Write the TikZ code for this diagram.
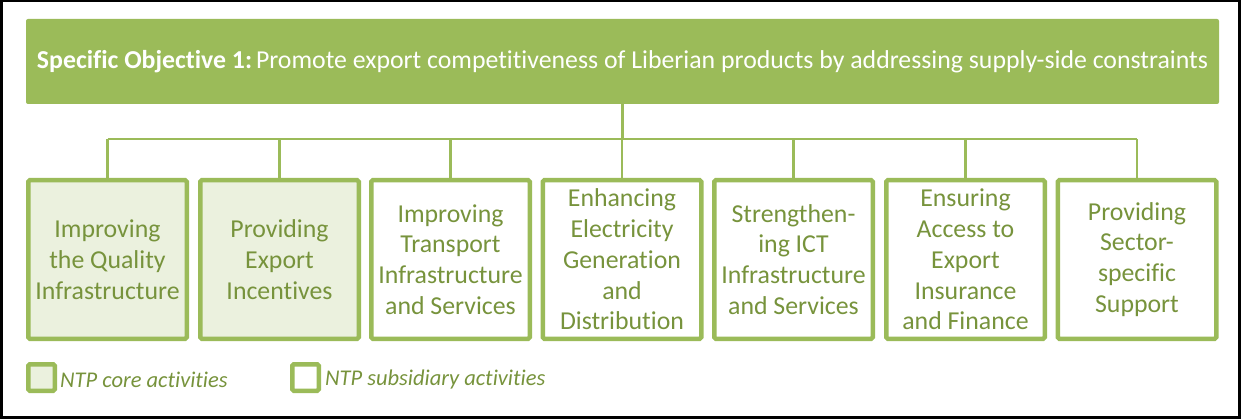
\documentclass[tikz,border=0pt]{standalone}
\usepackage{fontspec}
\setmainfont[Ligatures=NoCommon]{Carlito}
\definecolor{ogreen}{HTML}{9BBB59}
\definecolor{otext}{HTML}{77933C}
\definecolor{olight}{HTML}{EBF1DE}
\begin{document}
\begin{tikzpicture}[x=1pt,y=-1pt,
  objbox/.style={fill=ogreen, draw=none, rounded corners=2pt, minimum width=1193pt, minimum height=85pt, inner sep=0pt, text=white, font=\fontsize{25.8}{30}\selectfont},
  actbox/.style={draw=ogreen, line width=4.5pt, rounded corners=1.5pt, minimum width=158.5pt, minimum height=158.5pt, inner sep=0pt, align=center, text=otext, font=\fontsize{25.8}{30.8}\selectfont, outer sep=0pt},
  core/.style={fill=olight},
  sub/.style={fill=white},
  legbox/.style={draw=ogreen, line width=4.5pt, rounded corners=1.5pt, minimum width=26.5pt, minimum height=26.5pt, inner sep=0pt, outer sep=0pt},
  legtext/.style={anchor=west, inner sep=0pt, text=otext, font=\fontsize{22.5}{26}\selectfont\itshape},
  conn/.style={draw=ogreen, line width=2.7pt}]
\useasboundingbox (0,0) rectangle (1241,419);
\draw[line width=2.5pt] (1.25,1.25) rectangle (1239.25,417.25);

\node[objbox] (obj) at (622.5,61.5) {\textbf{Specific Objective 1:}\hspace{0.15em}Promote export competitiveness of Liberian products by addressing supply-side constraints};

\node[actbox,core] (c1) at (107.5,259.5) {Improving\\the Quality\\Infrastructure};
\node[actbox,core] (c2) at (279.5,259.5) {Providing\\Export\\Incentives};
\node[actbox,sub] (c3) at (450.5,259.5) {Improving\\Transport\\Infrastructure\\and Services};
\node[actbox,sub] (c4) at (622,259.5) {Enhancing\\Electricity\\Generation\\and\\Distribution};
\node[actbox,sub] (c5) at (793.5,259.5) {Strengthen-\\ing ICT\\Infrastructure\\and Services};
\node[actbox,sub] (c6) at (965.5,259.5) {Ensuring\\Access to\\Export\\Insurance\\and Finance};
\node[actbox,sub] (c7) at (1137,259.5) {Providing\\Sector-\\specific\\Support};

\coordinate (bar) at (0,139);
\draw[conn] (obj.south) -- (obj.south |- bar);
\draw[conn] (c1.north |- bar) -- (c7.north |- bar);
\foreach \i in {1,...,7} {\draw[conn] (c\i.north) -- (c\i.north |- bar);}

\node[legbox,core] (l1) at (41.5,377.5) {};
\node[legtext] (t1) at (60,379.5) {NTP core activities};
\node[legbox,sub] (l2) at (305.5,377.5) {};
\node[legtext] (t2) at (325,379.5) {NTP subsidiary activities};
\end{tikzpicture}
\end{document}
